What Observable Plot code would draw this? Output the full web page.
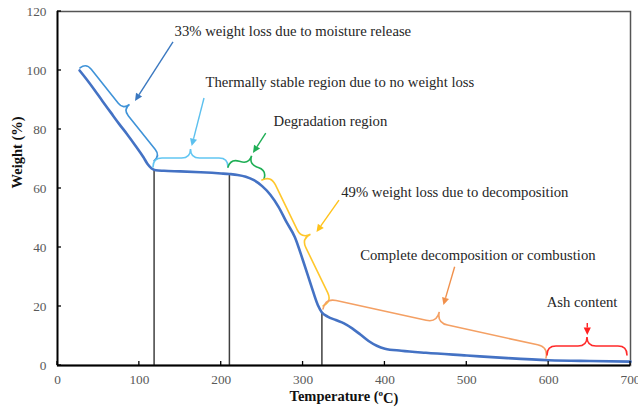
<!DOCTYPE html>
<html><head><meta charset="utf-8">
<script src="https://cdn.jsdelivr.net/npm/d3@7"></script>
<script src="https://cdn.jsdelivr.net/npm/@observablehq/plot@0.6"></script>
<style>
body{margin:0;background:#fff}
#chart svg, #chart svg text { font-family: "Liberation Serif", "DejaVu Serif", serif !important; }
</style>
</head><body><div id="chart"></div>
<script>
// ---- data ----
const temperature = [27,35,45,55,65,75,85,95,105,110,115,120,130,150,175,200,210,220,230,240,250,260,270,280,290,300,310,318,323,330,340,350,360,370,380,390,400,420,450,500,550,600,650,700];
const weight = [100,97.2,93.5,89.6,85.8,82.0,78.4,74.6,70.6,68.3,66.8,66.2,66.0,65.8,65.5,65.1,64.9,64.6,64.0,62.8,60.8,57.9,53.8,48.5,43.5,35.5,27.0,20.5,18.0,16.6,15.4,14.3,12.6,10.5,8.3,6.7,5.7,5.0,4.3,3.4,2.5,1.8,1.5,1.3];
const xTicks = [0,100,200,300,400,500,600,700];
const yTicks = [0,20,40,60,80,100,120];
const markerTemps = [118, 210, 323];
const markerWeights = [66.4, 64.9, 18.0];

// annotations (data coordinates)
const labels = ["33% weight loss due to moisture release","Thermally stable region due to no weight loss","Degradation region","49% weight loss due to decomposition","Complete decomposition or combustion","Ash content"];
const labelT = [143, 180.8, 263.9, 346.6, 369.8, 597.7];
const labelW = [113.2, 96.0, 82.8, 58.7, 37.3, 21.5];
const braceStart = [[28.1,100.7],[117.3,67.1],[208.9,67.1],[250.4,62.7],[325,19.0],[598.6,3.4]];
const braceEnd   = [[118.5,69.2],[208.9,67.1],[252.9,63.1],[325,20.0],[597.4,2.4],[696.3,3.4]];
const arrowFrom  = [[141.7,109.5],[179.6,90.5],[255,78.6],[344.5,55.9],[485.8,33.3],[647.8,14.2]];
const arrowTo    = [[95.3,89.5],[164.5,74.2],[239.4,71.9],[317,45.1],[472.1,20.3],[647.8,10.2]];

// styles
const braceColors = ["#3f93d8","#62c6f2","#1fae55","#ffc72c","#f4a064","#ff2a2a"];
const arrowColors = ["#3a78c0","#5cc0ee","#1fae55","#ffc21a","#f0904c","#ff2020"];
const braceDepth = [8, 9, 9, 10, 11, 9];

const curve = temperature.map((t, i) => ({t, w: weight[i]}));
const markers = markerTemps.map((t, i) => ({t, w: markerWeights[i]}));
const notes = labels.map((s, i) => ({s, t: labelT[i], w: labelW[i]}));

function annotationMark(index, scales) {
  const x = scales.x, y = scales.y;
  const g = d3.create("svg:g");
  const P = ([t, w]) => [x(t), y(w)];
  // inward ticks
  for (const v of xTicks) {
    g.append("line").attr("x1", x(v)).attr("x2", x(v)).attr("y1", y(0)).attr("y2", y(0) - 4)
      .attr("stroke", "#000").attr("stroke-width", 1.3);
  }
  for (const v of yTicks) {
    g.append("line").attr("x1", x(0)).attr("x2", x(0) + 4).attr("y1", y(v)).attr("y2", y(v))
      .attr("stroke", "#000").attr("stroke-width", 1.3);
  }
  // braces
  braceStart.forEach((s, i) => {
    const a = P(s), b = P(braceEnd[i]), d = braceDepth[i];
    const dx = b[0] - a[0], dy = b[1] - a[1], L = Math.hypot(dx, dy);
    const t = [dx / L, dy / L], n = [t[1], -t[0]];
    const m = [(a[0] + b[0]) / 2, (a[1] + b[1]) / 2];
    const pt = (base, u, v) => [base[0] + t[0] * u + n[0] * v, base[1] + t[1] * u + n[1] * v];
    const p = d3.path();
    p.moveTo(...a);
    p.quadraticCurveTo(...pt(a, 0, d), ...pt(a, d, d));
    p.lineTo(...pt(m, -d, d));
    p.quadraticCurveTo(...pt(m, 0, d), ...pt(m, 0, 2 * d));
    p.quadraticCurveTo(...pt(m, 0, d), ...pt(m, d, d));
    p.lineTo(...pt(b, -d, d));
    p.quadraticCurveTo(...pt(b, 0, d), ...b);
    g.append("path").attr("d", p.toString()).attr("fill", "none")
      .attr("stroke", braceColors[i]).attr("stroke-width", 1.6).attr("stroke-linecap", "round");
  });
  // arrows
  arrowFrom.forEach((f, i) => {
    const a = P(f), b = P(arrowTo[i]);
    const dx = b[0] - a[0], dy = b[1] - a[1], L = Math.hypot(dx, dy);
    const u = [dx / L, dy / L], v = [-u[1], u[0]];
    const hl = 7.5, hw = 3.6;
    const base = [b[0] - u[0] * hl, b[1] - u[1] * hl];
    g.append("line").attr("x1", a[0]).attr("y1", a[1]).attr("x2", base[0]).attr("y2", base[1])
      .attr("stroke", arrowColors[i]).attr("stroke-width", 1.4);
    g.append("path")
      .attr("d", `M${b[0]},${b[1]}L${base[0] + v[0] * hw},${base[1] + v[1] * hw}L${base[0] - v[0] * hw},${base[1] - v[1] * hw}Z`)
      .attr("fill", arrowColors[i]);
  });
  return g.node();
}

const serif = "Liberation Serif, DejaVu Serif, serif";
const chart = Plot.plot({
  width: 638, height: 410,
  marginLeft: 57, marginRight: 8, marginTop: 11, marginBottom: 45,
  style: {fontFamily: serif, fontSize: "13.3px", background: "#fff", color: "#595959"},
  x: {domain: [0, 700], ticks: xTicks, tickSize: 0, tickPadding: 9, label: null},
  y: {domain: [0, 120], ticks: yTicks, tickSize: 0, tickPadding: 11, label: null},
  marks: [
    Plot.frame({stroke: "#555", strokeWidth: 1.5}),
    Plot.ruleX(markers, {x: "t", y1: 0, y2: "w", stroke: "#404040", strokeWidth: 1.5}),
    Plot.line(curve, {x: "t", y: "w", stroke: "#4472c4", strokeWidth: 2.6, curve: "monotone-x"}),
    Plot.ruleY([0], {stroke: "#000", strokeWidth: 1.8}),
    Plot.ruleX([0], {stroke: "#000", strokeWidth: 1.8}),
    annotationMark,
    Plot.text(notes, {x: "t", y: "w", text: "s", textAnchor: "start", fill: "#262626", fontSize: 14.7, fontFamily: serif}),
    Plot.text(["Temperature (oC)"], {frameAnchor: "bottom", dy: 35, fontWeight: "bold", fontSize: 14.5, fill: "#111", fontFamily: serif}),
    Plot.text(["Weight (%)"], {frameAnchor: "left", dx: -40, rotate: -90, fontWeight: "bold", fontSize: 14.5, fill: "#111", fontFamily: serif})
  ]
});
document.getElementById("chart").append(chart);
// superscript degree mark in the x-axis title
d3.select(chart).selectAll("text").filter(function () { return this.textContent === "Temperature (oC)"; })
  .each(function () {
    const t = d3.select(this);
    t.text(null);
    t.append("tspan").text("Temperature (");
    t.append("tspan").text("o").attr("dy", "-0.45em").attr("font-size", "9px");
    t.append("tspan").text("C)").attr("dy", "0.45em");
  });
</script>
</body></html>
